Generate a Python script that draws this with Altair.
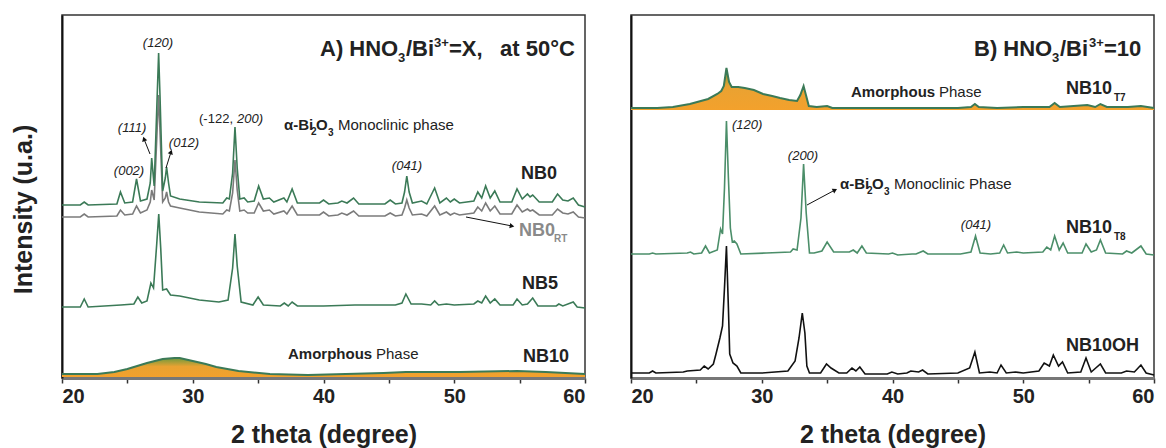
import altair as alt
import pandas as pd

# ---------------- data (2 theta, intensity a.u. incl. vertical offsets) -------------
nb0_theta = [20.0, 21.4, 21.7, 22.0, 24.2, 24.47, 24.8, 25.4, 25.7, 26.0, 26.5, 26.75, 26.86, 27.05, 27.25, 27.39,
             27.5, 27.7, 27.9, 28.0, 28.15, 28.3, 29.0, 30.5, 32.3, 32.6, 32.8, 33.05, 33.23, 33.4, 33.6, 33.93,
             34.2, 34.7, 35.04, 35.4, 35.86, 36.2, 36.97, 37.2, 37.6, 38.0, 39.7, 40.0, 40.4, 41.1, 41.4, 41.8,
             42.3, 42.7, 44.7, 45.1, 45.5, 46.0, 46.2, 46.37, 46.55, 46.8, 47.5, 47.9, 48.5, 48.9, 49.4, 49.7,
             50.0, 50.4, 51.5, 51.8, 52.1, 52.4, 52.75, 53.1, 53.5, 54.4, 54.8, 55.2, 55.6, 55.8, 56.0, 56.5,
             57.5, 57.9, 58.3, 58.7, 59.1, 59.5, 60.0]
nb0_int = [173, 173, 176, 173, 174, 186, 175, 176, 199, 177, 179, 195, 220, 192, 270, 325,
           280, 187, 200, 211, 195, 182, 179, 176, 175, 180, 179, 205, 251, 210, 179, 180,
           176, 177, 192, 179, 180, 176, 180, 176, 189, 175, 175, 178, 174, 175, 177, 175,
           180, 174, 174, 178, 174, 175, 186, 202, 186, 175, 177, 174, 190, 175, 180, 176,
           179, 175, 177, 186, 180, 192, 180, 187, 176, 176, 189, 179, 184, 181, 183, 176,
           176, 184, 178, 177, 180, 173, 171]
nb0rt_int = [161, 161, 164, 161, 162, 168, 163, 164, 172, 165, 168, 176, 188, 178, 240, 283,
             245, 176, 180, 186, 176, 172, 170, 166, 164, 168, 167, 185, 218, 188, 167, 168,
             165, 165, 175, 167, 168, 164, 167, 164, 172, 163, 163, 166, 162, 163, 165, 163,
             167, 162, 162, 165, 162, 163, 170, 178, 170, 163, 164, 162, 172, 163, 166, 163,
             165, 163, 165, 171, 167, 175, 167, 172, 164, 164, 173, 166, 169, 167, 168, 163,
             163, 169, 165, 164, 166, 161, 160]

nb5_theta = [20.0, 21.4, 21.7, 22.0, 24.5, 25.5, 25.8, 26.1, 26.5, 26.8, 27.0, 27.25, 27.4, 27.55, 27.7, 28.0,
             28.3, 29.0, 30.5, 32.0, 32.7, 33.05, 33.23, 33.4, 33.7, 34.6, 35.0, 35.4, 36.7, 37.0, 37.3, 37.6,
             38.0, 40.0, 42.4, 45.5, 46.0, 46.3, 46.7, 47.5, 48.2, 48.5, 48.8, 49.4, 50.0, 51.5, 51.8, 52.1,
             52.4, 52.75, 53.1, 53.5, 54.5, 54.8, 55.2, 55.6, 56.0, 56.4, 57.8, 58.0, 58.3, 59.1, 59.4, 60.0]
nb5_int = [71, 71, 79, 71, 73, 74, 81, 75, 77, 95, 90, 135, 164, 130, 88, 89,
           83, 82, 78, 76, 78, 110, 144, 112, 76, 73, 81, 73, 72, 75, 72, 76,
           72, 72, 73, 73, 75, 84, 74, 74, 73, 77, 73, 74, 73, 74, 77, 75,
           82, 75, 79, 73, 73, 79, 73, 74, 80, 72, 72, 74, 72, 76, 71, 70]

nb10_theta = [20.0, 22.0, 22.7, 24.0, 25.0, 26.5, 27.7, 28.6, 29.0, 30.0, 31.0, 31.8, 33.5, 35.9, 38.8,
              44.6, 46.3, 50.4, 54.8, 57.0, 60.0]
nb10_int = [4, 4, 4, 6, 9, 15, 19, 20, 20, 17, 14, 11, 7, 4, 3, 5, 6, 6, 7, 6, 4]

t7_theta = [20.0, 22.0, 23.2, 24.5, 25.9, 26.6, 26.9, 27.1, 27.3, 27.5, 27.7, 28.2, 28.7, 29.4, 30.1, 30.8,
            31.4, 32.1, 32.7, 32.95, 33.2, 33.4, 33.6, 34.2, 35.0, 35.4, 40.0, 45.0, 46.0, 46.3, 46.6, 48.0,
            50.0, 52.0, 52.4, 52.8, 54.9, 55.5, 55.9, 56.4, 58.0, 59.0, 60.0]
t7_int = [270, 270, 271, 274, 279, 284, 287, 292, 310, 296, 291, 291, 290, 288, 284, 282,
          280, 278, 277, 283, 292, 282, 272, 271, 272, 270, 270, 270, 271, 274, 271, 270,
          271, 271, 275, 271, 273, 271, 274, 271, 271, 272, 270]

t8_theta = [20.0, 21.4, 21.65, 21.9, 24.3, 24.55, 24.8, 25.4, 25.7, 26.0, 26.6, 26.85, 27.0, 27.15, 27.3, 27.45,
            27.6, 27.75, 27.9, 28.1, 28.4, 30.35, 32.2, 32.4, 32.7, 33.0, 33.2, 33.4, 33.65, 34.0, 34.6, 35.0,
            35.5, 35.9, 36.7, 37.0, 37.3, 37.66, 38.0, 39.7, 40.0, 40.4, 41.5, 41.8, 42.35, 42.7, 45.2, 46.0,
            46.35, 46.7, 47.5, 48.2, 48.5, 48.8, 49.5, 50.0, 51.5, 51.8, 52.1, 52.4, 52.75, 53.05, 53.4, 54.5,
            54.8, 55.2, 55.6, 55.9, 56.3, 57.6, 57.9, 58.3, 59.0, 59.4, 60.0]
t8_int = [124, 124, 125, 124, 125, 126, 124, 125, 132, 125, 128, 149, 144, 190, 257, 200,
          150, 136, 137, 134, 124, 125, 126, 129, 128, 160, 214, 165, 125, 125, 127, 136,
          126, 126, 126, 128, 125, 132, 125, 124, 125, 123, 124, 124, 127, 124, 124, 126,
          142, 125, 124, 125, 133, 125, 126, 125, 126, 131, 128, 142, 128, 135, 125, 125,
          134, 126, 128, 138, 125, 124, 127, 125, 132, 124, 123]

oh_theta = [20.0, 21.4, 21.65, 21.9, 24.0, 24.3, 25.3, 25.6, 25.9, 26.3, 26.5, 26.8, 27.0, 27.15, 27.3, 27.45,
            27.55, 27.8, 28.1, 28.4, 30.0, 32.0, 32.55, 32.85, 33.1, 33.3, 33.45, 33.65, 34.5, 34.95, 35.3, 35.9,
            36.5, 36.9, 37.2, 37.5, 37.9, 39.6, 39.95, 40.4, 41.1, 41.4, 42.0, 42.3, 42.7, 45.0, 45.9, 46.3,
            46.65, 47.45, 48.0, 48.3, 48.7, 49.4, 50.0, 51.2, 51.6, 52.0, 52.3, 52.7, 53.0, 53.4, 54.4, 54.8,
            55.2, 55.9, 56.3, 57.5, 57.9, 58.5, 59.0, 59.4, 60.0]
oh_int = [5, 5, 7, 5, 6, 7, 8, 12, 9, 14, 24, 40, 52, 90, 132, 70,
          24, 15, 12, 5, 5, 7, 17, 40, 65, 45, 12, 5, 5, 14, 10, 5,
          5, 10, 7, 11, 4, 4, 6, 4, 5, 7, 6, 8, 4, 5, 10, 26,
          5, 6, 5, 13, 5, 6, 5, 7, 15, 12, 23, 12, 16, 5, 6, 20,
          6, 14, 5, 5, 7, 6, 13, 5, 3]

x_ticks = [20, 25, 30, 35, 40, 45, 50, 55, 60]

# ---------------- styling -------------------------------------------------------
FONT = "Liberation Sans"
GREEN = "#3b7a57"
GREEN2 = "#4b8e69"
GRAY = "#7b7b7b"
W, H = 523, 363
XS = alt.Scale(domain=[20, 60], nice=False, zero=False)
YS = alt.Scale(domain=[0, 363], nice=False, zero=False)

fill_grad = alt.Gradient(
    gradient="linear",
    stops=[alt.GradientStop(color="#6f9a3c", offset=0),
           alt.GradientStop(color="#e9a232", offset=0.45),
           alt.GradientStop(color="#f3a12c", offset=1)],
    x1=1, x2=1, y1=0, y2=1)


def tdf(theta, inten):
    return pd.DataFrame({"theta": theta, "val": inten})


def to_data(px, py, origin):
    # annotation placement: page pixel -> data coordinates of the panel
    return 20 + (px - origin[0]) * 40.0 / W, H - (py - origin[1])


XAX = alt.Axis(values=x_ticks, format="d", labelExpr="datum.value % 10 == 0 ? datum.label : ''",
               title="2 theta (degree)", grid=False,
               labelFont=FONT, labelFontSize=20, labelFontWeight="bold", labelColor="#222",
               labelPadding=3, titleFont=FONT, titleFontSize=25, titleFontWeight="bold",
               titleColor="#222", titlePadding=16, domainColor="#777", domainWidth=3,
               tickColor="#333", tickSize=5, tickWidth=1.5)
YAX_L = alt.Axis(title="Intensity (u.a.)", labels=False, ticks=False, grid=False,
                 domainColor="#111", domainWidth=2, titleFont=FONT, titleFontSize=25,
                 titleFontWeight="bold", titleColor="#222", titlePadding=26, titleY=194)
YAX_R = alt.Axis(title=None, labels=False, ticks=False, grid=False,
                 domainColor="#111", domainWidth=2)


def enc_xy(xf, yf, yax):
    return dict(x=alt.X(xf, type="quantitative", scale=XS, axis=XAX),
                y=alt.Y(yf, type="quantitative", scale=YS, axis=yax))


def area_layer(df, base, yax):
    return alt.Chart(df).mark_area(color=fill_grad, opacity=1).encode(
        y2=alt.datum(base), **enc_xy("theta", "val", yax))


def line_layer(df, color, width, yax):
    return alt.Chart(df).mark_line(color=color, strokeWidth=width).encode(
        **enc_xy("theta", "val", yax))


def texts(rows, origin, yax, size, weight="normal", style="normal", color="#222", align="left",
          baseline="middle"):
    pts = [to_data(r[1], r[2], origin) for r in rows]
    df = pd.DataFrame({"t": [r[0] for r in rows],
                       "tx": [p[0] for p in pts],
                       "ty": [p[1] for p in pts]})
    return alt.Chart(df).mark_text(font=FONT, fontSize=size, fontWeight=weight, fontStyle=style,
                                   color=color, align=align, baseline=baseline).encode(
        text="t:N", **enc_xy("tx", "ty", yax))


def arrow(x1, y1, x2, y2, ang, origin, yax):
    a = to_data(x1, y1, origin)
    b = to_data(x2, y2, origin)
    df = pd.DataFrame({"ax": [a[0]], "ay": [a[1]], "bx": [b[0]], "by": [b[1]]})
    rule = alt.Chart(df).mark_rule(color="#111", strokeWidth=1).encode(
        x2="bx:Q", y2="by:Q", **enc_xy("ax", "ay", yax))
    head = alt.Chart(df).mark_point(shape="triangle-up", filled=True, size=28, color="#111",
                                    opacity=1, angle=ang).encode(**enc_xy("bx", "by", yax))
    return [rule, head]


# ---------------- left panel -----------------------------------------------------
OL = (61, 14)
YL = YAX_L
LW = 1.6
left_layers = [
    area_layer(tdf(nb10_theta, nb10_int), 1, YL),
    line_layer(tdf(nb10_theta, nb10_int), GREEN, 2.0, YL),
    line_layer(tdf(nb0_theta, nb0rt_int), GRAY, LW, YL),
    line_layer(tdf(nb5_theta, nb5_int), GREEN, LW, YL),
    line_layer(tdf(nb0_theta, nb0_int), GREEN, LW, YL),
]
left_layers += arrow(149, 153, 143, 138, 342, OL, YL)
left_layers += arrow(165, 167, 170, 151, 18, OL, YL)
left_layers += arrow(465, 216, 511, 225, 101, OL, YL)
left_layers += [
    texts([("A) HNO", 319, 55), ("/Bi", 405, 55), ("=X,", 448, 55), ("at 50°C", 499, 55)], OL, YL, 22,
          "bold", baseline="alphabetic"),
    texts([("3", 397, 61)], OL, YL, 13, "bold", baseline="alphabetic"),
    texts([("3+", 433, 46)], OL, YL, 13, "bold", baseline="alphabetic"),
    texts([("(120)", 157, 42), ("(111)", 131, 127), ("(002)", 128, 170), ("(012)", 183, 142),
           ("(041)", 406, 165)], OL, YL, 13, style="italic", align="center"),
    texts([("(-122,", 232, 118)], OL, YL, 13, align="right"),
    texts([("200)", 236, 118)], OL, YL, 13, style="italic"),
    texts([("α-Bi", 283, 124), ("O", 315, 124)], OL, YL, 15, "bold"),
    texts([("2", 310, 131), ("3", 327, 132)], OL, YL, 10, "bold"),
    texts([("Monoclinic phase", 337, 124)], OL, YL, 15),
    texts([("Amorphous", 287, 353)], OL, YL, 15, "bold"),
    texts([("Phase", 375, 353)], OL, YL, 15),
    texts([("NB0", 520, 173), ("NB5", 521, 283), ("NB10", 522, 356)], OL, YL, 18, "bold"),
    texts([("NB0", 518, 230)], OL, YL, 18, "bold", color="#8a8a8a"),
    texts([("RT", 553, 238)], OL, YL, 10, "bold", color="#8a8a8a"),
]
left = alt.layer(*left_layers).properties(width=W, height=H)

# ---------------- right panel ----------------------------------------------------
OR = (630, 14)
YR = YAX_R
right_layers = [
    area_layer(tdf(t7_theta, t7_int), 268, YR),
    line_layer(tdf(t7_theta, t7_int), GREEN, 2.0, YR),
    line_layer(tdf(t8_theta, t8_int), GREEN2, LW, YR),
    line_layer(tdf(oh_theta, oh_int), "#111", LW, YR),
]
right_layers += arrow(806, 204, 834, 189, 62, OR, YR)
right_layers += [
    texts([("B) HNO", 973, 55), ("/Bi", 1059, 55), ("=10", 1103, 55)], OR, YR, 22, "bold",
          baseline="alphabetic"),
    texts([("3", 1051, 61)], OR, YR, 13, "bold", baseline="alphabetic"),
    texts([("3+", 1088, 46)], OR, YR, 13, "bold", baseline="alphabetic"),
    texts([("Amorphous", 850, 91)], OR, YR, 15, "bold"),
    texts([("Phase", 938, 91)], OR, YR, 15),
    texts([("NB10", 1065, 88), ("NB10", 1065, 227), ("NB10OH", 1065, 345)], OR, YR, 18, "bold"),
    texts([("T7", 1113, 97), ("T8", 1113, 236)], OR, YR, 10, "bold"),
    texts([("(120)", 731, 124)], OR, YR, 13, style="italic"),
    texts([("(200)", 802, 155), ("(041)", 975, 224)], OR, YR, 13, style="italic", align="center"),
    texts([("α-Bi", 839, 183), ("O", 871, 183)], OR, YR, 15, "bold"),
    texts([("2", 866, 190), ("3", 883, 191)], OR, YR, 10, "bold"),
    texts([("Monoclinic Phase", 893, 183)], OR, YR, 15),
]
right = alt.layer(*right_layers).properties(width=W, height=H)

chart = alt.hconcat(left, right, spacing=36).properties(
    padding={"left": 10, "top": 14, "right": 0, "bottom": 0}
).configure(font=FONT, background="white").configure_view(stroke="#333", strokeWidth=1.5)

chart.save("out.html", embed_options={"renderer": "svg", "actions": False})
